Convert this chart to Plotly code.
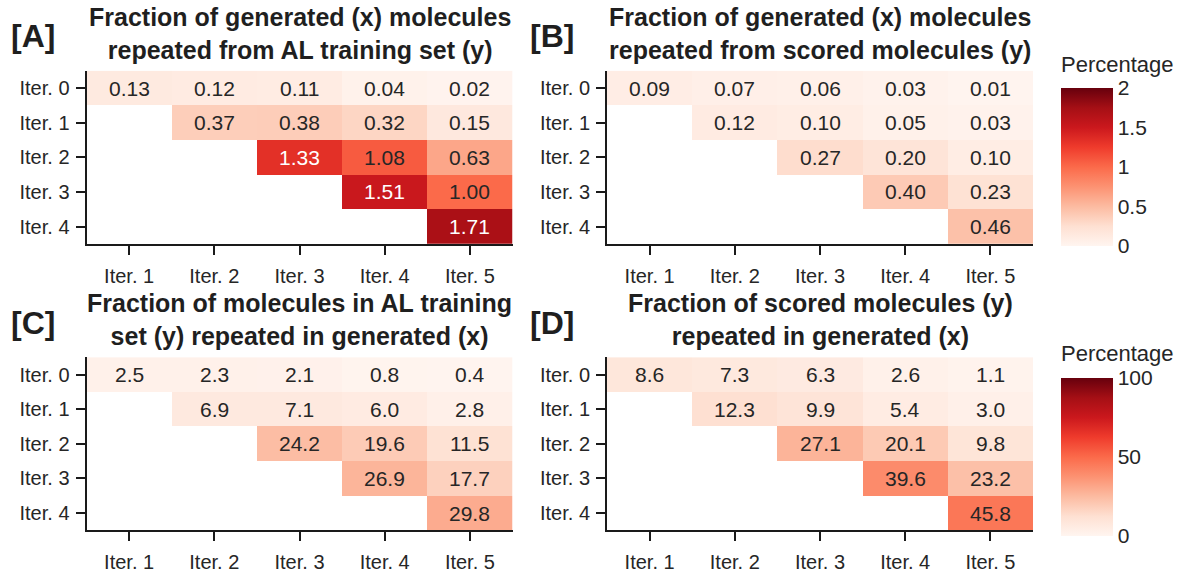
import plotly.graph_objects as go

# Axis categories: generated iterations (x) vs. reference iterations (y)
gen_iters = ["Iter. 1", "Iter. 2", "Iter. 3", "Iter. 4", "Iter. 5"]
ref_iters = ["Iter. 0", "Iter. 1", "Iter. 2", "Iter. 3", "Iter. 4"]

# [A] generated molecules repeated from the AL training set (percentage)
gen_from_al = [
    [0.13, 0.12, 0.11, 0.04, 0.02],
    [None, 0.37, 0.38, 0.32, 0.15],
    [None, None, 1.33, 1.08, 0.63],
    [None, None, None, 1.51, 1.00],
    [None, None, None, None, 1.71],
]
# [B] generated molecules repeated from scored molecules (percentage)
gen_from_scored = [
    [0.09, 0.07, 0.06, 0.03, 0.01],
    [None, 0.12, 0.10, 0.05, 0.03],
    [None, None, 0.27, 0.20, 0.10],
    [None, None, None, 0.40, 0.23],
    [None, None, None, None, 0.46],
]
# [C] AL training-set molecules repeated in generated (percentage)
al_in_gen = [
    [2.5, 2.3, 2.1, 0.8, 0.4],
    [None, 6.9, 7.1, 6.0, 2.8],
    [None, None, 24.2, 19.6, 11.5],
    [None, None, None, 26.9, 17.7],
    [None, None, None, None, 29.8],
]
# [D] scored molecules repeated in generated (percentage)
scored_in_gen = [
    [8.6, 7.3, 6.3, 2.6, 1.1],
    [None, 12.3, 9.9, 5.4, 3.0],
    [None, None, 27.1, 20.1, 9.8],
    [None, None, None, 39.6, 23.2],
    [None, None, None, None, 45.8],
]

titles = [
    "Fraction of generated (x) molecules<br>repeated from AL training set (y)",
    "Fraction of generated (x) molecules<br>repeated from scored molecules (y)",
    "Fraction of molecules in AL training<br>set (y) repeated in generated (x)",
    "Fraction of scored molecules (y)<br>repeated in generated (x)",
]
panel_tags = ["[A]", "[B]", "[C]", "[D]"]
colorbar_title = "Percentage"

W, H = 1191, 573
FONT = "Liberation Sans, Arial, Helvetica, sans-serif"
INK = "#262626"

REDS = [
    [0.000, "#fff5f0"], [0.125, "#fee0d2"], [0.250, "#fcbba1"],
    [0.375, "#fc9272"], [0.500, "#fb6a4a"], [0.625, "#ef3b2c"],
    [0.750, "#cb181d"], [0.875, "#a50f15"], [1.000, "#67000d"],
]


def fx(p):
    return p / W


def fy(p):
    return 1 - p / H


# pixel boxes of the four heatmaps: (left, right, top, bottom)
boxes = [
    (86.5, 512.5, 71.5, 246.5),
    (607.0, 1033.0, 71.5, 246.5),
    (86.5, 512.5, 361.0, 536.0),
    (607.0, 1033.0, 361.0, 536.0),
]

panels = [
    (gen_from_al, "coloraxis", 2.0, "{:.2f}"),
    (gen_from_scored, "coloraxis", 2.0, "{:.2f}"),
    (al_in_gen, "coloraxis2", 100.0, "{:.1f}"),
    (scored_in_gen, "coloraxis2", 100.0, "{:.1f}"),
]

fig = go.Figure()
annotations = []
layout_axes = {}

for i, ((z, cax, zmax, fmt), box) in enumerate(zip(panels, boxes)):
    n = "" if i == 0 else str(i + 1)
    xa, ya = "x" + n, "y" + n
    fig.add_trace(go.Heatmap(
        z=z, x=gen_iters, y=ref_iters, coloraxis=cax,
        xaxis=xa, yaxis=ya, hoverongaps=False,
    ))
    left, right, top, bottom = box
    axis_common = dict(
        showline=True, linecolor="#1a1a1a", linewidth=2,
        ticks="outside", ticklen=9, tickwidth=1.5, tickcolor="#1a1a1a",
        showgrid=False, zeroline=False,
        tickfont=dict(family=FONT, size=20, color=INK),
    )
    layout_axes["xaxis" + n] = dict(
        domain=[fx(left), fx(right)], anchor=ya, side="bottom",
        type="category", ticklabelstandoff=4, **axis_common,
    )
    layout_axes["yaxis" + n] = dict(
        domain=[fy(bottom), fy(top)], anchor=xa,
        type="category", autorange="reversed", ticklabelstandoff=2,
        **axis_common,
    )
    # cell value labels
    for r, row in enumerate(z):
        for c, v in enumerate(row):
            if v is None:
                continue
            annotations.append(dict(
                x=gen_iters[c], y=ref_iters[r], xref=xa, yref=ya,
                text=fmt.format(v), showarrow=False,
                font=dict(family=FONT, size=21,
                          color="white" if v / zmax > 0.6 else INK),
            ))
    # panel title
    annotations.append(dict(
        x=fx((left + right) / 2), y=fy(top - 5), xref="paper", yref="paper",
        xanchor="center", yanchor="bottom", showarrow=False,
        text="<b>" + titles[i] + "</b>",
        font=dict(family=FONT, size=25, color="#1f1f1f"),
    ))
    # panel tag
    annotations.append(dict(
        x=fx(33 if i % 2 == 0 else 552), y=fy(36 if i < 2 else 326),
        xref="paper", yref="paper", xanchor="center", yanchor="middle",
        showarrow=False, text="<b>" + panel_tags[i] + "</b>",
        font=dict(family=FONT, size=32, color="#1f1f1f"),
    ))

# colorbar headings
for y_px in (65, 357):
    annotations.append(dict(
        x=fx(1059), y=fy(y_px), xref="paper", yref="paper",
        xanchor="left", yanchor="middle", showarrow=False,
        text=colorbar_title,
        font=dict(family=FONT, size=22, color=INK),
    ))


def colorbar(top_px, dtick):
    return dict(
        thickness=52, lenmode="pixels", len=158,
        x=fx(1061), xanchor="left", xpad=0,
        y=fy(top_px), yanchor="top", ypad=0,
        outlinewidth=0, ticks="", dtick=dtick,
        tickfont=dict(family=FONT, size=21, color=INK),
    )


fig.update_layout(
    width=W, height=H, autosize=False,
    margin=dict(l=0, r=0, t=0, b=0),
    paper_bgcolor="white", plot_bgcolor="white",
    coloraxis=dict(colorscale=REDS, cmin=0, cmax=2, colorbar=colorbar(89, 0.5)),
    coloraxis2=dict(colorscale=REDS, cmin=0, cmax=100, colorbar=colorbar(382, 50)),
    annotations=annotations,
    **layout_axes,
)

fig.write_html("out.html")
